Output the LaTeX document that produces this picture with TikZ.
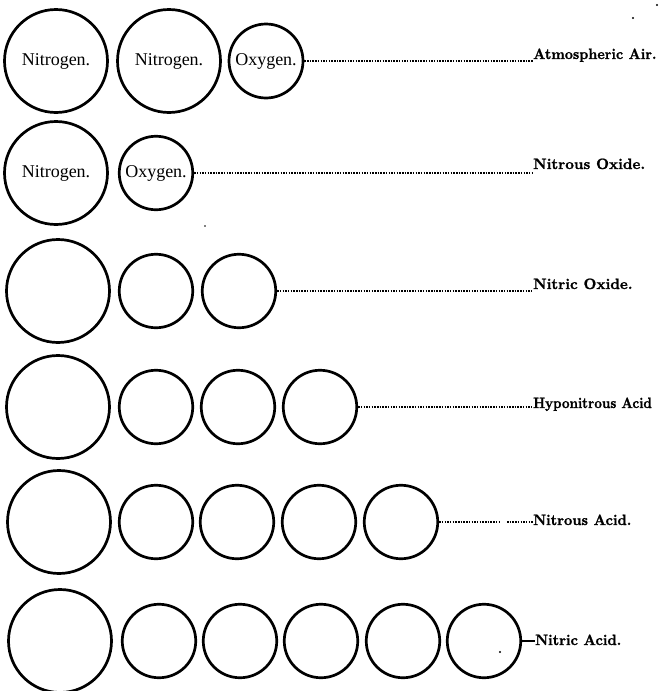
\documentclass[tikz,border=0pt]{standalone}
\usepackage{fontspec}
\newfontfamily\circfont{Liberation Serif}
\newfontfamily\labfont[FakeBold=1.3]{lmroman10-bold.otf}
\begin{document}
\begin{tikzpicture}[x=1pt,y=-1pt,
  ring/.style={circle, draw, line width=2.7pt, inner sep=0pt, font=\circfont\fontsize{18}{21}\selectfont},
  big/.style={ring, minimum size=103pt},
  small/.style={ring, minimum size=73.5pt},
  lab/.style={anchor=base west, inner sep=0pt, font=\labfont\fontsize{15}{18}\selectfont},
  dots/.style={line width=2.1pt, dash pattern=on 1.5pt off 1.2pt},
  speck/.style={fill=black, draw=none, circle, inner sep=0pt, minimum size=2.2pt}]
\useasboundingbox (0,0) rectangle (668,691);
% Row 1
\node[big] (a1) at (56,61) {Nitrogen.};
\node[big] (a2) at (169,61) {Nitrogen.};
\node[small, minimum size=74pt] (a3) at (266,61) {Oxygen.};
\node[lab] (la) at (533,59) {\scalebox{0.94}[1]{Atmospheric Air.}};
\draw[dots] (a3.east) -- (a3.east -| la.west);
% Row 2
\node[big] (b1) at (56,173) {Nitrogen.};
\node[small] (b2) at (156,173) {Oxygen.};
\node[lab] (lb) at (533,169) {Nitrous Oxide.};
\draw[dots] (b2.east) -- (b2.east -| lb.west);
% Row 3
\node[big] (c1) at (58,291) {};
\node[small] (c2) at (156,291) {};
\node[small] (c3) at (239,291) {};
\node[lab] (lc) at (533,289) {Nitric Oxide.};
\draw[dots] (c3.east) -- (c3.east -| lc.west);
% Row 4
\node[big] (d1) at (58,407) {};
\node[small] (d2) at (156,407) {};
\node[small] (d3) at (238,407) {};
\node[small] (d4) at (320,407) {};
\node[lab] (ld) at (533,408) {\scalebox{0.88}[1]{Hyponitrous Acid}};
\draw[dots] (d4.east) -- (d4.east -| ld.west);
% Row 5
\node[big] (e1) at (59,522) {};
\node[small] (e2) at (156,522) {};
\node[small] (e3) at (237,522) {};
\node[small] (e4) at (319,522) {};
\node[small] (e5) at (401,522) {};
\node[lab] (le) at (533,525) {\scalebox{0.96}[1]{Nitrous Acid.}};
\coordinate (g1) at (501,522);
\coordinate (g2) at (507,522);
\draw[dots] (e5.east) -- (g1);
\draw[dots] (g2) -- (g2 -| le.west);
% Row 6
\node[big] (f1) at (60,641) {};
\node[small] (f2) at (159,641) {};
\node[small] (f3) at (240,641) {};
\node[small] (f4) at (321,641) {};
\node[small] (f5) at (403,641) {};
\node[small] (f6) at (484,641) {};
\node[lab] (lf) at (535,645) {\scalebox{0.96}[1]{Nitric Acid.}};
\draw[line width=1.3pt] (f6.east) -- (f6.east -| lf.west);
% specks
\node[speck] (s1) at (500,652) {};
\node[speck] (s2) at (657,5) {};
\node[speck] (s3) at (633,18) {};
\node[speck, minimum size=1.6pt] (s4) at (205,226) {};
\end{tikzpicture}
\end{document}
